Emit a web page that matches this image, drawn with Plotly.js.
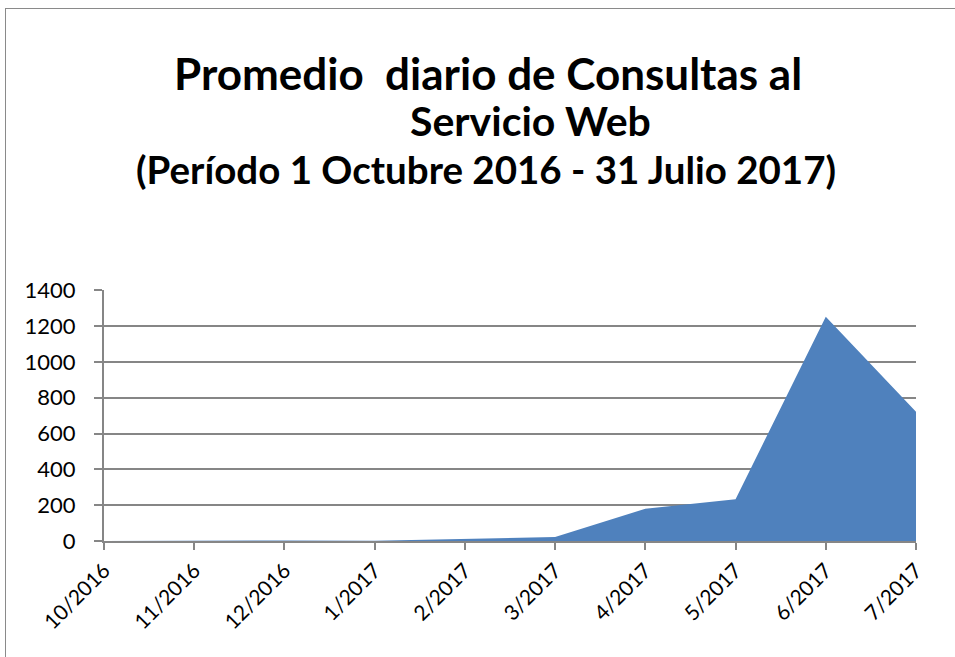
<!DOCTYPE html>
<html>
<head>
<meta charset="utf-8">
<script src="https://cdn.plot.ly/plotly-3.0.1.min.js"></script>
<style>
html,body{margin:0;padding:0;background:#fff;width:955px;height:657px;overflow:hidden;}
#frame{position:absolute;left:5px;top:8px;width:1000px;height:700px;border:1.5px solid #8a8a8a;box-sizing:border-box;}
#chart{position:absolute;left:0;top:0;width:955px;height:657px;}
</style>
</head>
<body>
<div id="frame"></div>
<div id="chart"></div>
<script>
const categories = ["10/2016","11/2016","12/2016","1/2017","2/2017","3/2017","4/2017","5/2017","6/2017","7/2017"];
const consultas = [0, 2, 3, 1, 12, 22, 180, 233, 1252, 722];
const yTicks = [0,200,400,600,800,1000,1200,1400];
const titleLines = ["Promedio  diario de Consultas al", "Servicio Web", "(Período 1 Octubre 2016 - 31 Julio 2017)"];

const font = "Lato, Carlito, Calibri, 'Open Sans', sans-serif";

// plot area: top 290, bottom 541 in pixels; convert pixel y to paper y
const toPaperY = py => (541 - py) / 251;
const toPaperX = px => (px - 104) / 812;

Plotly.newPlot('chart', [{
  x: categories,
  y: consultas,
  type: 'scatter',
  mode: 'lines',
  fill: 'tozeroy',
  fillcolor: '#4F81BD',
  line: {width: 0, color: '#4F81BD'},
  hoverinfo: 'x+y'
}], {
  width: 955, height: 657,
  paper_bgcolor: 'rgba(0,0,0,0)',
  plot_bgcolor: 'rgba(0,0,0,0)',
  margin: {l: 104, r: 39, t: 290, b: 116},
  showlegend: false,
  annotations: [
    {text: "<b>" + titleLines[0] + "</b>", xref: 'paper', yref: 'paper', x: toPaperX(488), y: toPaperY(73), xanchor: 'center', yanchor: 'middle', showarrow: false, font: {family: font, size: 44, color: '#000'}},
    {text: "<b>" + titleLines[1] + "</b>", xref: 'paper', yref: 'paper', x: toPaperX(530), y: toPaperY(121), xanchor: 'center', yanchor: 'middle', showarrow: false, font: {family: font, size: 41, color: '#000'}},
    {text: "<b>" + titleLines[2] + "</b>", xref: 'paper', yref: 'paper', x: toPaperX(486), y: toPaperY(169), xanchor: 'center', yanchor: 'middle', showarrow: false, font: {family: font, size: 38.5, color: '#000'}}
  ],
  xaxis: {
    type: 'category',
    range: [0, 9],
    tickangle: -45,
    tickfont: {family: font, size: 21, color: '#000'},
    ticks: 'outside', ticklen: 7, tickcolor: '#868686', tickwidth: 2,
    showline: true, linecolor: '#868686', linewidth: 2,
    showgrid: false, zeroline: false,
    fixedrange: true
  },
  yaxis: {
    range: [0, 1402],
    tickvals: yTicks,
    tickfont: {family: font, size: 22, color: '#000'},
    ticks: 'outside', ticklen: 8, tickcolor: '#868686', tickwidth: 2,
    ticklabelstandoff: 14,
    showline: true, linecolor: '#868686', linewidth: 2,
    showgrid: true, gridcolor: '#868686', gridwidth: 2,
    zeroline: false,
    fixedrange: true
  }
}, {displayModeBar: false, staticPlot: true});
</script>
</body>
</html>
